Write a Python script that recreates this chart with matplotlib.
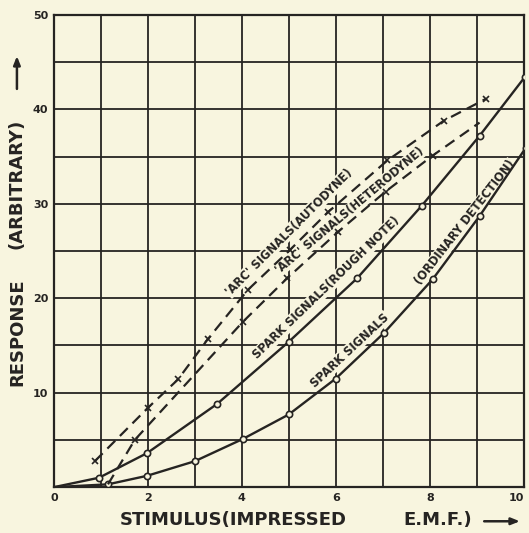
import matplotlib.pyplot as plt

# Spark signals (ordinary detection) - lower solid curve
ord_x = [0, 1.15, 1.98, 3.0, 4.02, 5.0, 6.0, 7.02, 8.06, 9.06, 10.04]
ord_y = [0, 0.3, 1.2, 2.75, 5.1, 7.7, 11.5, 16.3, 22.0, 28.7, 35.9]

# Spark signals (rough note) - upper solid curve
rough_x = [0, 0.96, 1.98, 3.47, 5.0, 6.45, 7.83, 9.06, 10.02]
rough_y = [0, 1.0, 3.6, 8.8, 15.4, 22.1, 29.8, 37.2, 43.4]

# 'Arc' signals (autodyne) - upper dashed curve
auto_x = [0.87, 2.0, 2.64, 3.28, 4.13, 5.02, 5.83, 7.1, 8.3, 9.19]
auto_y = [2.75, 8.4, 11.4, 15.7, 20.9, 25.1, 29.1, 34.6, 38.8, 41.1]

# 'Arc' signals (heterodyne) - lower dashed curve
het_x = [1.15, 1.72, 4.02, 4.96, 6.04, 7.06, 8.06, 9.06]
het_y = [0.3, 5.0, 17.5, 22.1, 27.0, 31.3, 35.1, 38.6]
het_marks = [1, 2, 3, 4, 5, 6]

x_ticks = [0, 2, 4, 6, 8, 10]
y_ticks = [10, 20, 30, 40, 50]

BG = '#f8f5df'
INK = '#262422'

fig = plt.figure(figsize=(5.29, 5.33), dpi=100)
fig.patch.set_facecolor(BG)
ax = fig.add_axes([0.102, 0.086, 0.888, 0.886])
ax.set_facecolor(BG)
ax.set_xlim(0, 10)
ax.set_ylim(0, 50)

# grid paper
for gx in range(0, 11):
    ax.axvline(gx, color=INK, lw=1.3, zorder=1)
for gy in range(0, 51, 5):
    ax.axhline(gy, color=INK, lw=1.3, zorder=1)
for s in ax.spines.values():
    s.set_color(INK)
    s.set_linewidth(1.6)

ax.set_xticks(x_ticks)
ax.set_yticks(y_ticks)
ax.tick_params(length=0, labelsize=8, colors=INK, pad=4)
for lab in ax.get_xticklabels() + ax.get_yticklabels():
    lab.set_fontweight('bold')
ax.get_xticklabels()[-1].set_horizontalalignment('right')

mk = dict(marker='o', ms=4.5, mfc=BG, mec=INK, mew=1.2)
ax.plot(ord_x, ord_y, color=INK, lw=1.7, markevery=list(range(1, len(ord_x))), zorder=3, **mk)
ax.plot(rough_x, rough_y, color=INK, lw=1.7, markevery=list(range(1, len(rough_x))), zorder=3, **mk)
ax.plot(auto_x, auto_y, color=INK, lw=1.6, ls=(0, (5, 3)), marker='x', ms=4.5, mew=1.2, zorder=3)
ax.plot(het_x, het_y, color=INK, lw=1.6, ls=(0, (5, 3)), marker='x', ms=4.5, mew=1.2,
        markevery=het_marks, zorder=3)

box = dict(facecolor=BG, edgecolor='none', pad=0.4)
lab = dict(fontsize=8.3, fontweight='bold', color=INK, ha='center', va='center',
           rotation_mode='anchor', bbox=box, zorder=2)
ax.text(5.0, 27.0, "'ARC' SIGNALS(AUTODYNE)", rotation=45, **lab)
ax.text(6.3, 29.3, "'ARC' SIGNALS(HETERODYNE)", rotation=40, **lab)
ax.text(5.8, 21.1, "SPARK SIGNALS(ROUGH NOTE)", rotation=44, **lab)
ax.text(6.3, 14.5, "SPARK SIGNALS", rotation=43, **lab)
ax.text(8.75, 28.0, "(ORDINARY DETECTION)", rotation=52, **lab)

fig.text(0.227, 0.025, "STIMULUS(IMPRESSED", fontsize=13, fontweight='bold', color=INK,
         ha='left', va='center')
fig.text(0.762, 0.025, "E.M.F.)", fontsize=13, fontweight='bold', color=INK,
         ha='left', va='center')
fig.text(0.032, 0.377, "RESPONSE", fontsize=13, fontweight='bold', color=INK,
         rotation=90, ha='center', va='center')
fig.text(0.032, 0.655, "(ARBITRARY)", fontsize=13, fontweight='bold', color=INK,
         rotation=90, ha='center', va='center')

arrow = dict(arrowstyle='-|>,head_length=0.5,head_width=0.2', color=INK, lw=1.8)
fig.add_artist(plt.Annotation('', xy=(0.988, 0.022), xytext=(0.91, 0.022),
                              xycoords='figure fraction', arrowprops=arrow))
fig.add_artist(plt.Annotation('', xy=(0.032, 0.9), xytext=(0.032, 0.828),
                              xycoords='figure fraction', arrowprops=arrow))

fig.savefig('out.png', dpi=100, facecolor=BG)
